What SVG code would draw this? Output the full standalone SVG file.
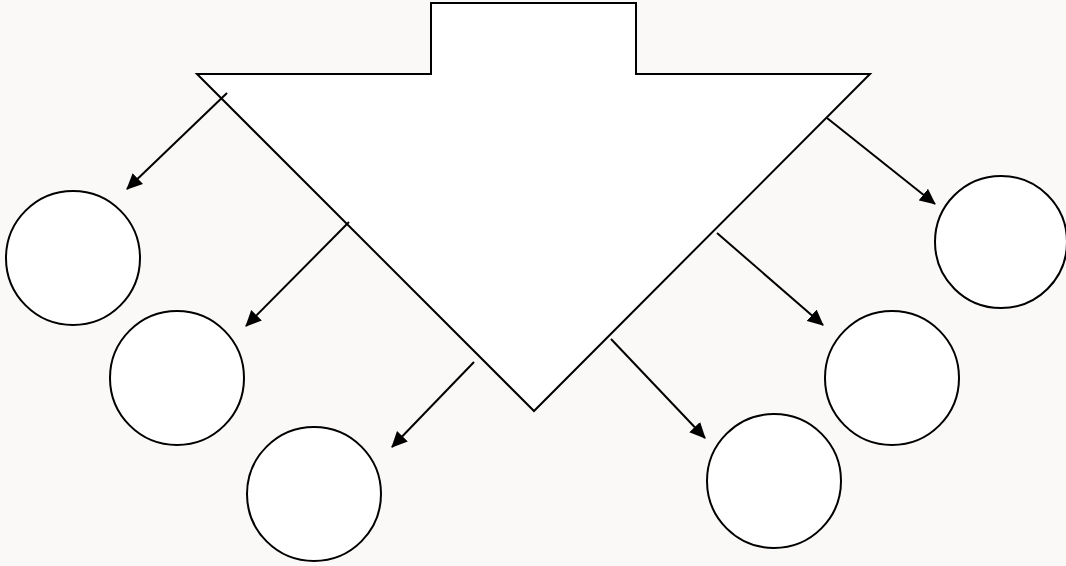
<svg xmlns="http://www.w3.org/2000/svg" width="1066" height="566" viewBox="0 0 1066 566">
<style>
.shape{fill:#fff;stroke:#000;stroke-width:2}
.conn{stroke:#000;stroke-width:2;fill:none;marker-end:url(#ah)}
</style>
<defs>
<marker id="ah" markerUnits="userSpaceOnUse" markerWidth="16" markerHeight="16" refX="15" refY="8" orient="auto">
<path d="M0,0.5 L16,8 L0,15.5 Z" fill="#000"/>
</marker>
</defs>
<rect width="1066" height="566" fill="#faf9f7"/>
<g id="big-arrow">
<path class="shape" d="M431,3 L636,3 L636,74 L870,74 L534,411 L197,74 L431,74 Z"/>
</g>
<g id="c1"><circle class="shape" cx="73" cy="258" r="67"/></g>
<g id="c2"><circle class="shape" cx="177" cy="378" r="67"/></g>
<g id="c3"><circle class="shape" cx="314" cy="494" r="67"/></g>
<g id="c4"><circle class="shape" cx="1001" cy="242" r="66"/></g>
<g id="c5"><circle class="shape" cx="892" cy="378" r="67"/></g>
<g id="c6"><circle class="shape" cx="774" cy="481" r="67"/></g>
<g id="connectors">
<line class="conn" x1="227" y1="93" x2="127" y2="189"/>
<line class="conn" x1="349" y1="222" x2="246" y2="326"/>
<line class="conn" x1="474" y1="362" x2="392" y2="447"/>
<line class="conn" x1="827" y1="118" x2="935" y2="204"/>
<line class="conn" x1="717" y1="233" x2="823" y2="325"/>
<line class="conn" x1="611" y1="339" x2="705" y2="438"/>
</g>
</svg>
